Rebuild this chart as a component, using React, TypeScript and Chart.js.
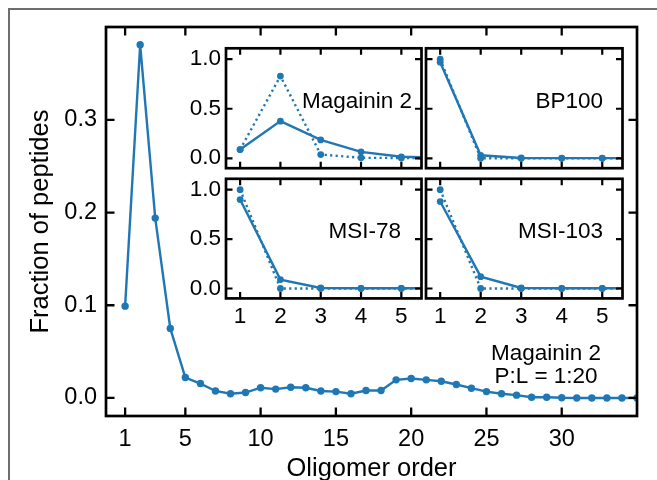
import React, { useEffect, useRef } from 'react';
import { Chart, registerables } from 'chart.js';

Chart.register(...registerables);

const W = 657;
const H = 480;
const BLUE = '#1f77b4';
const FONT = "'Liberation Sans', Arial, Helvetica, sans-serif";

// ---- main panel data ----
const oligomerOrder = [
  1, 2, 3, 4, 5, 6, 7, 8, 9, 10, 11, 12, 13, 14, 15, 16, 17, 18,
  19, 20, 21, 22, 23, 24, 25, 26, 27, 28, 29, 30, 31, 32, 33, 34, 35,
];
const fractionOfPeptides = [
  0.099, 0.381, 0.194, 0.075, 0.022, 0.0155, 0.0075, 0.0045, 0.0058, 0.011,
  0.0095, 0.0115, 0.011, 0.0075, 0.0068, 0.0045, 0.008, 0.008, 0.0195, 0.021,
  0.0195, 0.018, 0.0145, 0.0105, 0.0068, 0.0045, 0.003, 0.0008, 0.0008, 0.0002,
  0.0, 0.0, 0.0, 0.0, 0.0,
];
const mainXTicks = [1, 5, 10, 15, 20, 25, 30];
const mainYTicks = [0, 0.1, 0.2, 0.3];
const mainXTitle = 'Oligomer order';
const mainYTitle = 'Fraction of peptides';
const annotationLines = ['Magainin 2', 'P:L = 1:20'];

// ---- inset data ----
const insetOrder = [1, 2, 3, 4, 5, 6];
const insetXTicks = [1, 2, 3, 4, 5];
const insetYTicks = [0, 0.5, 1.0];
const insetNames = ['Magainin 2', 'BP100', 'MSI-78', 'MSI-103'];
const magaininSolid = [0.088, 0.375, 0.185, 0.065, 0.015, 0.005];
const magaininDotted = [0.088, 0.83, 0.038, 0.005, 0.003, 0.002];
const bp100Solid = [0.97, 0.03, 0.003, 0.002, 0.002, 0.002];
const bp100Dotted = [1.0, 0.0, 0.0, 0.0, 0.0, 0.0];
const msi78Solid = [0.9, 0.09, 0.005, 0.002, 0.002, 0.002];
const msi78Dotted = [1.0, 0.0, 0.0, 0.0, 0.0, 0.0];
const msi103Solid = [0.88, 0.12, 0.005, 0.002, 0.002, 0.002];
const msi103Dotted = [1.0, 0.0, 0.0, 0.0, 0.0, 0.0];

function frameTicksPlugin(xTicks: number[], yTicks: number[], len: number, frameW: number, tickW: number) {
  return {
    id: 'frameTicks',
    afterDatasetsDraw(chart: any) {
      const { ctx, chartArea: a, scales } = chart;
      ctx.save();
      ctx.strokeStyle = '#000';
      ctx.lineCap = 'butt';
      ctx.lineWidth = tickW;
      ctx.beginPath();
      for (const v of xTicks) {
        const px = scales.x.getPixelForValue(v);
        ctx.moveTo(px, a.bottom);
        ctx.lineTo(px, a.bottom - len);
        ctx.moveTo(px, a.top);
        ctx.lineTo(px, a.top + len);
      }
      for (const v of yTicks) {
        const py = scales.y.getPixelForValue(v);
        ctx.moveTo(a.left, py);
        ctx.lineTo(a.left + len, py);
        ctx.moveTo(a.right, py);
        ctx.lineTo(a.right - len, py);
      }
      ctx.stroke();
      ctx.lineWidth = frameW;
      ctx.strokeRect(a.left, a.top, a.right - a.left, a.bottom - a.top);
      ctx.restore();
    },
  };
}

function textPlugin(lines: string[], dx: number, dy: number, lineGap: number, size: number, align: string) {
  return {
    id: 'textLabel',
    afterDraw(chart: any) {
      const { ctx, chartArea: a } = chart;
      ctx.save();
      ctx.fillStyle = '#000';
      ctx.font = `${size}px ${FONT}`;
      ctx.textAlign = align;
      ctx.textBaseline = 'middle';
      lines.forEach((t, i) => ctx.fillText(t, a.right + dx, a.top + dy + i * lineGap));
      ctx.restore();
    },
  };
}

function lineDataset(xs: number[], ys: number[], dashed: boolean, width: number, radius: number) {
  return {
    data: xs.map((x, i) => ({ x, y: ys[i] })),
    borderColor: BLUE,
    backgroundColor: BLUE,
    pointBackgroundColor: BLUE,
    pointBorderColor: BLUE,
    borderWidth: width,
    borderDash: dashed ? [2.2, 3.3] : [],
    pointRadius: radius,
    pointBorderWidth: 0,
    pointHoverRadius: radius,
    tension: 0,
    fill: false,
  };
}

function mainConfig(): any {
  return {
    type: 'line',
    data: { datasets: [lineDataset(oligomerOrder, fractionOfPeptides, false, 2.4, 3.7)] },
    options: {
      responsive: false,
      animation: false,
      devicePixelRatio: 1,
      events: [],
      layout: { padding: { left: 0, top: 27, right: 20, bottom: 0 } },
      scales: {
        x: {
          type: 'linear',
          min: -0.27,
          max: 35,
          afterBuildTicks: (s: any) => { s.ticks = mainXTicks.map((v) => ({ value: v })); },
          afterFit: (s: any) => { s.height = 64; },
          ticks: {
            font: { family: FONT, size: 23.5 },
            color: '#000',
            padding: 9,
            maxRotation: 0,
            autoSkip: false,
            callback: (v: any) => String(v),
          },
          grid: { display: false, drawTicks: false },
          border: { display: false },
          title: {
            display: true,
            text: mainXTitle,
            color: '#000',
            font: { family: FONT, size: 25.5, lineHeight: 0.88 },
            padding: { top: 0, bottom: 0 },
          },
        },
        y: {
          type: 'linear',
          min: -0.0195,
          max: 0.4002,
          afterBuildTicks: (s: any) => { s.ticks = mainYTicks.map((v) => ({ value: v })); },
          afterFit: (s: any) => { s.width = 106; },
          ticks: {
            font: { family: FONT, size: 23.5 },
            color: '#000',
            padding: 9,
            callback: (v: any) => Number(v).toFixed(1),
          },
          grid: { display: false, drawTicks: false },
          border: { display: false },
          title: {
            display: true,
            text: mainYTitle,
            color: '#000',
            font: { family: FONT, size: 25.5, lineHeight: 1.2 },
            padding: { top: 26, bottom: 0 },
          },
        },
      },
      plugins: { legend: { display: false }, tooltip: { enabled: false } },
    },
    plugins: [
      frameTicksPlugin(mainXTicks, mainYTicks, 8.5, 2.7, 2.3),
      textPlugin(annotationLines, -91, 326.5, 23.5, 22.5, 'center'),
    ],
  };
}

type InsetSpec = {
  name: string;
  solid: number[];
  dotted: number[];
  box: { left: number; top: number; right: number; bottom: number };
  showX: boolean;
  showY: boolean;
  nameDx: number;
};

function insetConfig(p: InsetSpec): any {
  const yW = p.showY ? 45 : 0;
  const xH = p.showX ? 30 : 0;
  return {
    type: 'line',
    data: {
      datasets: [
        lineDataset(insetOrder, p.solid, false, 2.4, 3.4),
        lineDataset(insetOrder, p.dotted, true, 2.4, 3.4),
      ],
    },
    options: {
      responsive: false,
      animation: false,
      devicePixelRatio: 1,
      events: [],
      layout: {
        padding: {
          left: p.box.left - yW,
          top: p.box.top,
          right: W - p.box.right,
          bottom: H - p.box.bottom - xH,
        },
      },
      scales: {
        x: {
          type: 'linear',
          min: 0.65,
          max: 5.5,
          afterBuildTicks: (s: any) => { s.ticks = insetXTicks.map((v) => ({ value: v })); },
          afterFit: (s: any) => { s.height = xH; },
          ticks: {
            display: p.showX,
            font: { family: FONT, size: 22.5 },
            color: '#000',
            padding: 5,
            maxRotation: 0,
            autoSkip: false,
            callback: (v: any) => String(v),
          },
          grid: { display: false, drawTicks: false },
          border: { display: false },
        },
        y: {
          type: 'linear',
          min: -0.1,
          max: 1.11,
          afterBuildTicks: (s: any) => { s.ticks = insetYTicks.map((v) => ({ value: v })); },
          afterFit: (s: any) => { s.width = yW; },
          ticks: {
            display: p.showY,
            font: { family: FONT, size: 22.5 },
            color: '#000',
            padding: 5,
            callback: (v: any) => Number(v).toFixed(1),
          },
          grid: { display: false, drawTicks: false },
          border: { display: false },
        },
      },
      plugins: { legend: { display: false }, tooltip: { enabled: false } },
    },
    plugins: [
      frameTicksPlugin(insetXTicks, insetYTicks, 6.5, 2.7, 2.2),
      textPlugin([p.name], p.nameDx, 53.2, 0, 22.5, 'right'),
    ],
  };
}

const insetSpecs: InsetSpec[] = [
  { name: insetNames[0], solid: magaininSolid, dotted: magaininDotted, box: { left: 226, top: 48.3, right: 421.5, bottom: 168.2 }, showX: false, showY: true, nameDx: -9.5 },
  { name: insetNames[1], solid: bp100Solid, dotted: bp100Dotted, box: { left: 426, top: 48.3, right: 622.5, bottom: 168.2 }, showX: false, showY: false, nameDx: -19.5 },
  { name: insetNames[2], solid: msi78Solid, dotted: msi78Dotted, box: { left: 226, top: 178.8, right: 421.5, bottom: 298.4 }, showX: true, showY: true, nameDx: -20.5 },
  { name: insetNames[3], solid: msi103Solid, dotted: msi103Dotted, box: { left: 426, top: 178.8, right: 622.5, bottom: 298.4 }, showX: true, showY: false, nameDx: -19.5 },
];

function ChartCanvas({ make }: { make: () => any }) {
  const ref = useRef<HTMLCanvasElement | null>(null);
  useEffect(() => {
    if (!ref.current) return;
    const chart = new Chart(ref.current, make());
    return () => chart.destroy();
  }, []);
  return (
    <canvas
      ref={ref}
      width={W}
      height={H}
      style={{ position: 'absolute', left: 0, top: 0, width: W, height: H }}
    />
  );
}

export default function App() {
  return (
    <div
      style={{
        position: 'fixed',
        left: 0,
        top: 0,
        width: W,
        height: H,
        overflow: 'hidden',
        background: '#fff',
      }}
    >
      <div
        style={{
          position: 'absolute',
          left: 7.5,
          top: 7.5,
          width: 700,
          height: 520,
          borderLeft: '2px solid #6e6e6e',
          borderTop: '2px solid #6e6e6e',
        }}
      />
      <ChartCanvas make={mainConfig} />
      {insetSpecs.map((s, i) => (
        <ChartCanvas key={i} make={() => insetConfig(s)} />
      ))}
    </div>
  );
}
